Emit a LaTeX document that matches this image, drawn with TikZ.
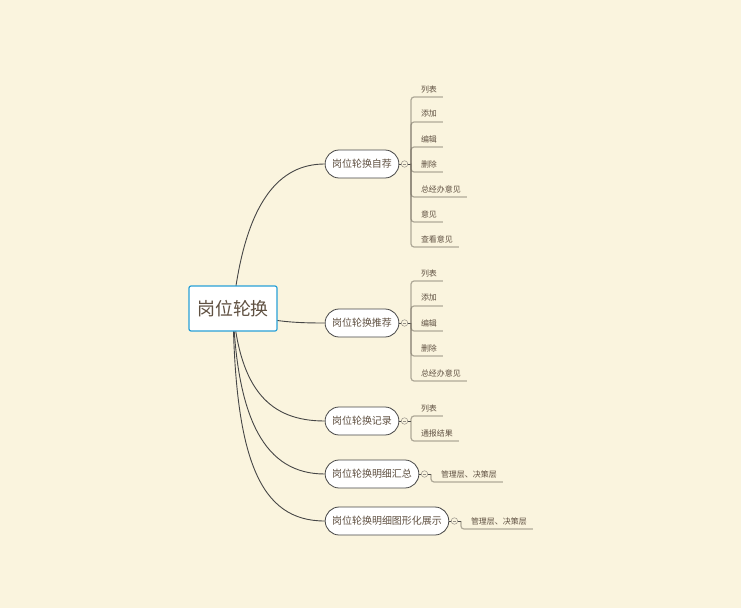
\documentclass[tikz,border=0pt]{standalone}
\usepackage{fontspec}
\setmainfont{Noto Sans CJK SC}
\usetikzlibrary{positioning}
\definecolor{bgc}{RGB}{250,244,222}
\definecolor{txtc}{RGB}{95,80,65}
\definecolor{linec}{RGB}{70,70,70}
\definecolor{rootc}{RGB}{40,160,215}
\definecolor{twigc}{RGB}{115,108,95}
\definecolor{foldc}{RGB}{150,145,135}
\pgfdeclarelayer{bg}
\pgfdeclarelayer{edges}
\pgfsetlayers{bg,edges,main}

\begin{document}
\begin{tikzpicture}[
    x=1bp, y=-1bp,
    root/.style={rectangle, draw=rootc, fill=white, line width=1.2bp, rounded corners=2bp, minimum width=88bp, minimum height=45bp, inner sep=0pt, text=txtc, font=\fontsize{18}{20}\selectfont},
    topic/.style={rectangle, draw=linec, fill=white, line width=0.8bp, rounded corners=14bp, minimum height=28bp, inner xsep=7bp, inner ysep=0pt, text=txtc, font=\fontsize{10}{12}\selectfont},
    leaf/.style={rectangle, minimum height=16bp, inner xsep=6bp, inner ysep=0pt, outer sep=0pt, text=txtc, font=\fontsize{8}{10}\selectfont, anchor=west},
    fold/.style={circle, draw=foldc, fill=bgc, line width=0.5bp, minimum size=6.5bp, inner sep=0pt,
        path picture={\draw[foldc, line width=0.5bp] ([xshift=-1.7bp]path picture bounding box.center) -- ([xshift=1.7bp]path picture bounding box.center);}},
    branch/.style={draw=linec, line width=0.9bp},
    twig/.style={draw=twigc, draw opacity=0.55, line width=1.2bp, rounded corners=3bp}
]

\begin{pgfonlayer}{bg}
\fill[bgc] (0,0) rectangle (741,608);
\end{pgfonlayer}
\useasboundingbox (0,0) rectangle (741,608);

% Central topic
\node[root] (root) at (233,308.5) {岗位轮换};

% Main topics
\node[topic] (b1) at (362,164) {岗位轮换自荐};
\node[topic] (b2) at (362,323) {岗位轮换推荐};
\node[topic] (b3) at (362,421) {岗位轮换记录};
\node[topic] (b4) at (372,474) {岗位轮换明细汇总};
\node[topic] (b5) at (387,521) {岗位轮换明细图形化展示};

% Fold markers and spines
\node[fold, right=1.75bp of b1] (f1) {};
\node[fold, right=1.75bp of b2] (f2) {};
\node[fold, right=1.75bp of b3] (f3) {};
\node[fold, right=1.75bp of b4] (f4) {};
\node[fold, right=1.75bp of b5] (f5) {};
\coordinate[right=3bp of f1] (s1);
\coordinate[right=3bp of f2] (s2);
\coordinate[right=3bp of f3] (s3);
\coordinate[right=3bp of f4] (s4);
\coordinate[right=3bp of f5] (s5);

% Subtopics of 岗位轮换自荐
\node[leaf] (l11) at (415,89) {列表};
\node[leaf, below right=9bp and 0bp of l11.south west] (l12) {添加};
\node[leaf, below right=9bp and 0bp of l12.south west] (l13) {编辑};
\node[leaf, below right=9bp and 0bp of l13.south west] (l14) {删除};
\node[leaf, below right=9bp and 0bp of l14.south west] (l15) {总经办意见};
\node[leaf, below right=9bp and 0bp of l15.south west] (l16) {意见};
\node[leaf, below right=9bp and 0bp of l16.south west] (l17) {查看意见};

% Subtopics of 岗位轮换推荐
\node[leaf] (l21) at (415,273) {列表};
\node[leaf, below right=9bp and 0bp of l21.south west] (l22) {添加};
\node[leaf, below right=9bp and 0bp of l22.south west] (l23) {编辑};
\node[leaf, below right=9bp and 0bp of l23.south west] (l24) {删除};
\node[leaf, below right=9bp and 0bp of l24.south west] (l25) {总经办意见};

% Subtopics of 岗位轮换记录
\node[leaf] (l31) at (415,408) {列表};
\node[leaf, below right=9bp and 0bp of l31.south west] (l32) {通报结果};

% Subtopics of the two detail topics
\node[leaf] (l41) at (435,474) {管理层、决策层};
\node[leaf] (l51) at (465,521) {管理层、决策层};

\begin{pgfonlayer}{edges}
% Curves from the central topic
\draw[branch] (root.center) .. controls (245,200) and (280,164) .. (b1.west);
\draw[branch] (root.center) .. controls (265,322) and (295,323) .. (b2.west);
\draw[branch] (root.center) .. controls (240,390) and (270,421) .. (b3.west);
\draw[branch] (root.center) .. controls (237,420) and (265,474) .. (b4.west);
\draw[branch] (root.center) .. controls (235,460) and (260,521) .. (b5.west);

% Short stubs to the fold markers
\draw[branch, line width=0.6bp] (b1.east) -- (f1) -- (s1);
\draw[branch, line width=0.6bp] (b2.east) -- (f2) -- (s2);
\draw[branch, line width=0.6bp] (b3.east) -- (f3) -- (s3);
\draw[branch, line width=0.6bp] (b4.east) -- (f4) -- (s4);
\draw[branch, line width=0.6bp] (b5.east) -- (f5) -- (s5);
\end{pgfonlayer}

% Underlined subtopic connectors
\draw[twig] (s1) |- (l11.south east);
\draw[twig] (s1) |- (l12.south east);
\draw[twig] (s1) |- (l13.south east);
\draw[twig] (s1) |- (l14.south east);
\draw[twig] (s1) |- (l15.south east);
\draw[twig] (s1) |- (l16.south east);
\draw[twig] (s1) |- (l17.south east);

\draw[twig] (s2) |- (l21.south east);
\draw[twig] (s2) |- (l22.south east);
\draw[twig] (s2) |- (l23.south east);
\draw[twig] (s2) |- (l24.south east);
\draw[twig] (s2) |- (l25.south east);

\draw[twig] (s3) |- (l31.south east);
\draw[twig] (s3) |- (l32.south east);

\draw[twig] (s4) |- (l41.south east);
\draw[twig] (s5) |- (l51.south east);

\end{tikzpicture}
\end{document}
